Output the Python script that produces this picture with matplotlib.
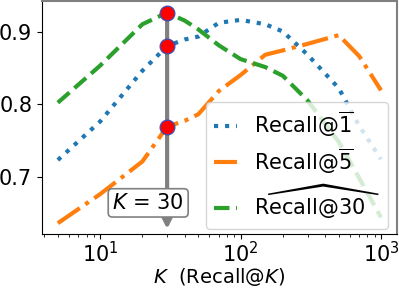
import numpy as np
import matplotlib
matplotlib.use("Agg")
import matplotlib.pyplot as plt

K = [5, 10, 20, 30, 40, 50, 70, 100, 150, 200, 300, 500, 700, 1000]
recall_1 = [0.723, 0.776, 0.846, 0.880, 0.889, 0.893, 0.912, 0.916, 0.910, 0.900, 0.868, 0.822, 0.770, 0.724]
recall_5 = [0.636, 0.676, 0.721, 0.769, 0.777, 0.786, 0.818, 0.840, 0.868, 0.874, 0.883, 0.895, 0.866, 0.819]
recall_30 = [0.802, 0.853, 0.910, 0.926, 0.915, 0.903, 0.881, 0.862, 0.851, 0.839, 0.805, 0.748, 0.698, 0.644]
labels = [r'Recall@$\overline{1}$', r'Recall@$\overline{5}$', r'$\widehat{\mathrm{Recall@30}}$']
K_sel = 30
sel_vals = [0.926, 0.880, 0.769]

fig = plt.figure(figsize=(3.99, 2.89), dpi=100)
ax = fig.add_axes([0.105, 0.19, 0.89, 0.8065])

ax.plot(K, recall_1, ':', color='#1f77b4', lw=3, label=labels[0])
ax.plot(K, recall_5, '-.', color='#ff7f0e', lw=3, label=labels[1])
ax.plot(K, recall_30, '--', color='#2ca02c', lw=3, label=labels[2])

ax.set_xscale('log')
ax.set_xlim(3.85, 1300)
ax.set_ylim(0.621, 0.942)

ax.annotate('', xy=(K_sel, 0.628), xytext=(K_sel, max(sel_vals)),
            arrowprops=dict(arrowstyle='-|>', color='gray', lw=3, mutation_scale=18,
                            shrinkA=0, shrinkB=0), zorder=4)
ax.plot([K_sel] * len(sel_vals), sel_vals, 'o', color='red', markersize=10.5,
        markeredgecolor='#4a4aa8', markeredgewidth=1, zorder=5, linestyle='none')
ax.text(22, 0.664, r'$K$ = 30', fontsize=15, ha='center', va='center', zorder=6,
        bbox=dict(boxstyle='round,pad=0.2', fc='white', ec='gray', lw=1.2))

ax.set_yticks([0.7, 0.8, 0.9])
ax.tick_params(labelsize=15)
ax.tick_params(axis='x', pad=1.5)
ax.set_xlabel(r'$K$  (Recall@$K$)', fontsize=14, labelpad=-0.5)
for s in ['top', 'right']:
    ax.spines[s].set_color('gray')
    ax.spines[s].set_linewidth(1.5)

ax.legend(loc='lower right', bbox_to_anchor=(0.975, 0.02), fontsize=15,
          handlelength=1.1, handletextpad=0.8, borderaxespad=0, labelspacing=0.35)

fig.savefig('out.png', dpi=100)
